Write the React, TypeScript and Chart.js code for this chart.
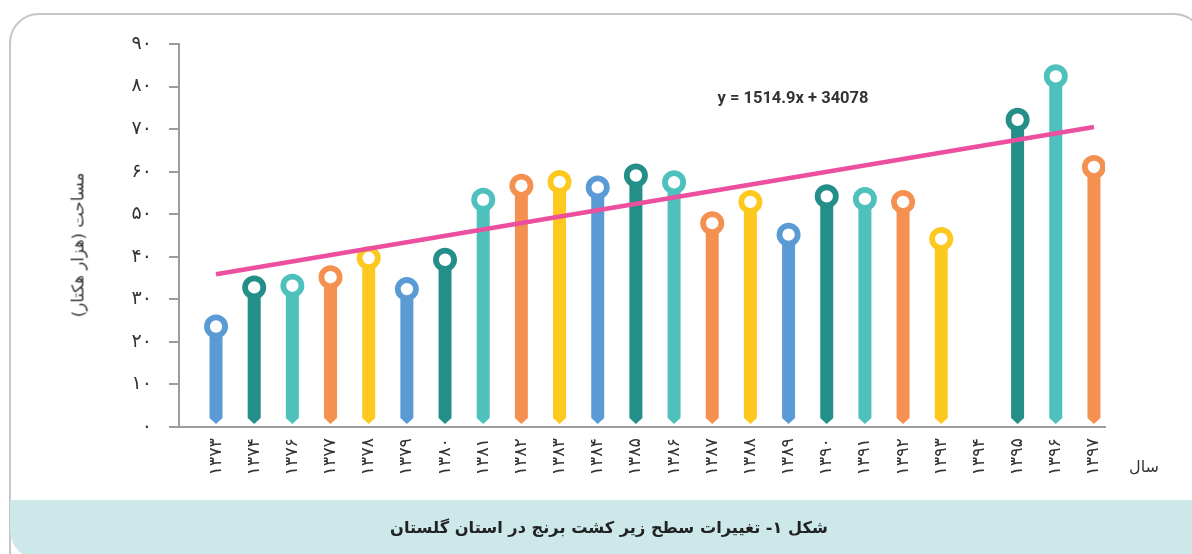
import React, { useEffect, useRef } from "react";
import { Chart, registerables } from "chart.js";

Chart.register(...registerables);

// ---- data ----
const years = [
  "۱۳۷۳", "۱۳۷۴", "۱۳۷۶", "۱۳۷۷", "۱۳۷۸", "۱۳۷۹", "۱۳۸۰", "۱۳۸۱",
  "۱۳۸۲", "۱۳۸۳", "۱۳۸۴", "۱۳۸۵", "۱۳۸۶", "۱۳۸۷", "۱۳۸۸", "۱۳۸۹",
  "۱۳۹۰", "۱۳۹۱", "۱۳۹۲", "۱۳۹۳", "۱۳۹۴", "۱۳۹۵", "۱۳۹۶", "۱۳۹۷",
];
const areaValues: (number | null)[] = [
  23.6, 32.8, 33.2, 35.2, 39.7, 32.4, 39.3, 53.4,
  56.7, 57.6, 56.3, 59.1, 57.5, 47.9, 52.9, 45.2,
  54.2, 53.6, 52.9, 44.2, null, 72.2, 82.4, 61.1,
];
const palette = ["#5a9bd5", "#248e89", "#4fc1bd", "#f59150", "#fec91f"];
const barColors = years.map((_, i) => palette[i % palette.length]);
const yTickLabels = ["۰", "۱۰", "۲۰", "۳۰", "۴۰", "۵۰", "۶۰", "۷۰", "۸۰", "۹۰"];
const trendStart = 35.9;
const trendEnd = 70.5;
const trendEquation = "y = 1514.9x + 34078";
const yTitle = "مساحت (هزار هکتار)";
const xTitle = "سال";
const caption = "شکل ۱- تغییرات سطح زیر کشت برنج در استان گلستان";

const AXIS_GRAY = "#9c9c9e";
const FA_FONT = "'DejaVu Sans', sans-serif";

const stemPlugin = {
  id: "stems",
  beforeDatasetDraw(chart: any, args: any) {
    if (args.index !== 0) return;
    const ctx = chart.ctx;
    const ds = chart.data.datasets[0];
    ctx.save();
    args.meta.data.forEach((bar: any, i: number) => {
      const pt = ds.data[i];
      if (!pt || pt.y == null) return;
      const { x, y, base, width } = bar.getProps(["x", "y", "base", "width"], true);
      const l = x - width / 2;
      const r = x + width / 2;
      ctx.beginPath();
      ctx.moveTo(l, y);
      ctx.lineTo(l, base - 8);
      ctx.lineTo(x, base - 2);
      ctx.lineTo(r, base - 8);
      ctx.lineTo(r, y);
      ctx.closePath();
      ctx.fillStyle = barColors[i];
      ctx.fill();
    });
    ctx.restore();
    return false;
  },
};

export default function App() {
  const canvasRef = useRef<HTMLCanvasElement | null>(null);

  useEffect(() => {
    if (!canvasRef.current) return;
    const points = areaValues.map((v, i) => ({ x: i, y: v }));
    const chart = new Chart(canvasRef.current, {
      type: "bar",
      data: {
        datasets: [
          {
            type: "bar",
            data: points as any,
            backgroundColor: barColors,
            barThickness: 13,
            order: 3,
          } as any,
          {
            type: "line",
            data: points as any,
            showLine: false,
            pointRadius: 9.1,
            pointHoverRadius: 9.1,
            pointBorderWidth: 5.8,
            pointHoverBorderWidth: 5.8,
            pointBackgroundColor: "#ffffff",
            pointBorderColor: barColors,
            order: 2,
          } as any,
          {
            type: "line",
            data: [
              { x: 0, y: trendStart },
              { x: years.length - 1, y: trendEnd },
            ] as any,
            borderColor: "#ec4f9d",
            borderWidth: 4.5,
            pointRadius: 0,
            order: 1,
          } as any,
        ],
      },
      options: {
        responsive: false,
        animation: false,
        events: [],
        layout: { padding: { left: 119, top: 44, right: 87, bottom: 57 } },
        plugins: { legend: { display: false }, tooltip: { enabled: false } },
        scales: {
          x: {
            type: "linear",
            offset: false,
            min: -0.97,
            max: 23.29,
            grid: { display: false, drawTicks: false, offset: false },
            border: { display: true, color: AXIS_GRAY, width: 2 },
            afterBuildTicks: (scale: any) => {
              scale.ticks = years.map((_, i) => ({ value: i }));
            },
            afterFit: (scale: any) => {
              scale.height = 70;
            },
            ticks: {
              autoSkip: false,
              maxRotation: 90,
              minRotation: 90,
              padding: 11,
              color: "#333333",
              font: { family: FA_FONT, size: 17.5 },
              callback: (v: any) => years[Math.round(Number(v))] ?? "",
            },
          },
          y: {
            type: "linear",
            min: 0,
            max: 90,
            grid: {
              drawOnChartArea: false,
              drawTicks: true,
              tickLength: 10,
              color: AXIS_GRAY,
              lineWidth: 2,
            },
            border: { display: true, color: AXIS_GRAY, width: 2 },
            afterFit: (scale: any) => {
              scale.width = 60;
            },
            ticks: {
              stepSize: 10,
              padding: 17,
              color: "#333333",
              font: { family: FA_FONT, size: 19 },
              callback: (v: any) => yTickLabels[Math.round(Number(v) / 10)] ?? "",
            },
          },
        },
      } as any,
      plugins: [stemPlugin],
    });
    return () => chart.destroy();
  }, []);

  return (
    <div
      style={{
        position: "absolute",
        left: 0,
        top: 0,
        width: 1192,
        height: 554,
        overflow: "hidden",
        background: "#ffffff",
      }}
    >
      <div
        style={{
          position: "absolute",
          left: 9,
          top: 13,
          width: 1195,
          height: 600,
          boxSizing: "border-box",
          border: "2px solid #c6c6c8",
          borderRadius: 30,
        }}
      />
      <div
        style={{
          position: "absolute",
          left: 10,
          top: 500,
          width: 1200,
          height: 60,
          background: "#cce8e9",
          borderBottomLeftRadius: 30,
        }}
      />
      <canvas
        ref={canvasRef}
        width={1192}
        height={554}
        style={{ position: "absolute", left: 0, top: 0, width: 1192, height: 554 }}
      />
      <div
        style={{
          position: "absolute",
          left: 78,
          top: 245,
          transform: "translate(-50%, -50%) rotate(-90deg)",
          whiteSpace: "nowrap",
          fontFamily: FA_FONT,
          fontSize: 16.5,
          color: "#333333",
          direction: "rtl",
        }}
      >
        {yTitle}
      </div>
      <div
        style={{
          position: "absolute",
          left: 1144,
          top: 466,
          transform: "translate(-50%, -50%)",
          whiteSpace: "nowrap",
          fontFamily: FA_FONT,
          fontSize: 16,
          color: "#333333",
          direction: "rtl",
        }}
      >
        {xTitle}
      </div>
      <div
        style={{
          position: "absolute",
          left: 793,
          top: 97,
          transform: "translate(-50%, -50%)",
          whiteSpace: "nowrap",
          fontFamily: "Roboto, sans-serif",
          fontWeight: 700,
          fontSize: 16.5,
          color: "#333333",
        }}
      >
        {trendEquation}
      </div>
      <div
        style={{
          position: "absolute",
          left: 609,
          top: 527,
          transform: "translate(-50%, -50%)",
          whiteSpace: "nowrap",
          fontFamily: FA_FONT,
          fontWeight: 700,
          fontSize: 16.2,
          color: "#222222",
          direction: "rtl",
        }}
      >
        {caption}
      </div>
    </div>
  );
}
